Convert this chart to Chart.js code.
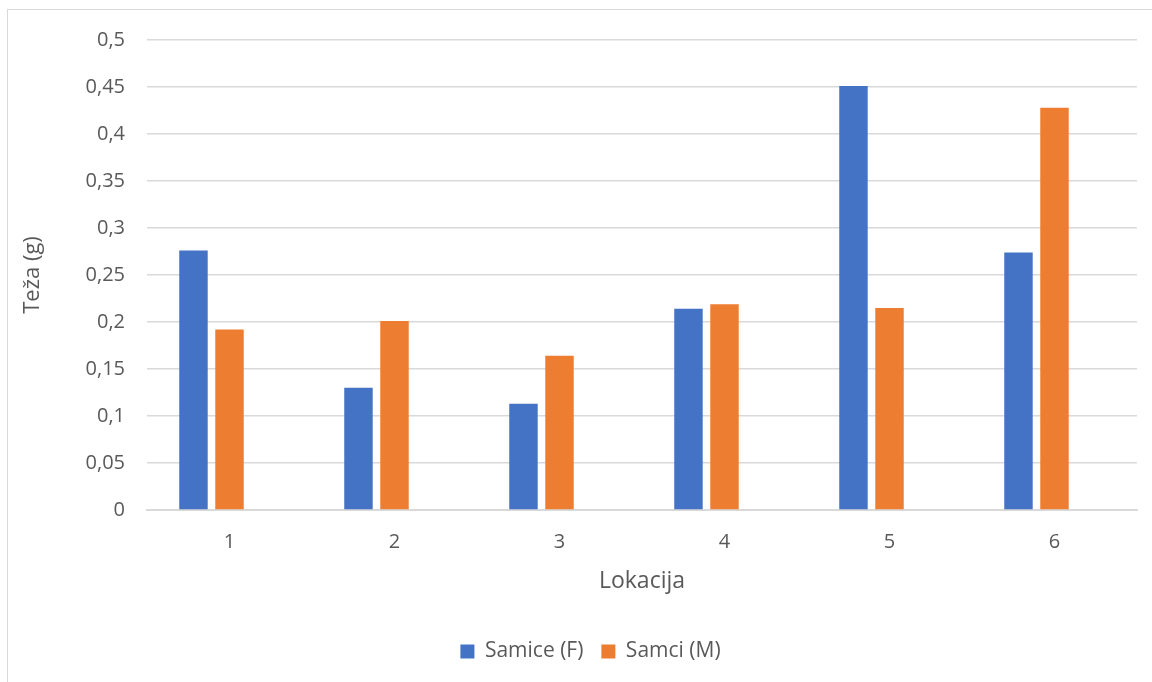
<!DOCTYPE html>
<html>
<head>
<meta charset="utf-8">
<script src="https://cdn.jsdelivr.net/npm/chart.js@4/dist/chart.umd.min.js"></script>
<style>
  html, body { margin: 0; padding: 0; background: #fff; }
  body { width: 1152px; height: 682px; position: relative; overflow: hidden; }
  #frame { position: absolute; left: 7px; top: 9px; width: 1200px; height: 720px; border: 1.5px solid #d9d9d9; box-sizing: border-box; }
  #wrap { position: absolute; left: 0; top: 0; width: 1152px; height: 682px; }
</style>
</head>
<body>
<div id="frame"></div>
<div id="wrap"><canvas id="c" width="1152" height="682"></canvas></div>
<script>
const categories = ['1', '2', '3', '4', '5', '6'];
const samice = [0.276, 0.130, 0.113, 0.214, 0.451, 0.274];
const samci = [0.192, 0.201, 0.164, 0.219, 0.215, 0.428];
const emptySeries = [null, null, null, null, null, null];
const seriesNames = ['Samice (F)', 'Samci (M)'];
const yTitle = 'Teža (g)';
const xTitle = 'Lokacija';

const FONT = "'Open Sans', 'Noto Sans', sans-serif";
const GRAY = '#595959';

const legendShift = {
  id: 'legendShift',
  afterLayout(chart) {
    if (chart.legend) { chart.legend.left += 22; chart.legend.right += 22; }
  }
};

new Chart(document.getElementById('c'), {
  type: 'bar',
  data: {
    labels: categories,
    datasets: [
      { label: seriesNames[0], data: samice, backgroundColor: '#4472c4', categoryPercentage: 0.655, barPercentage: 0.79 },
      { label: seriesNames[1], data: samci, backgroundColor: '#ed7d31', categoryPercentage: 0.655, barPercentage: 0.79 },
      { label: '', data: emptySeries, backgroundColor: 'rgba(0,0,0,0)', categoryPercentage: 0.655, barPercentage: 0.79 }
    ]
  },
  plugins: [legendShift],
  options: {
    responsive: false,
    animation: false,
    layout: { padding: { left: 0, right: 15, top: 40, bottom: 10 } },
    plugins: {
      tooltip: { enabled: false },
      legend: {
        position: 'bottom',
        labels: {
          filter: (item) => item.text !== '',
          boxWidth: 14, boxHeight: 14,
          color: GRAY,
          font: { family: FONT, size: 21 },
          padding: 18
        }
      }
    },
    scales: {
      x: {
        grid: { display: false, drawTicks: false },
        border: { display: true, color: '#d9d9d9', width: 2 },
        ticks: { color: GRAY, font: { family: FONT, size: 20 }, padding: 20 },
        title: { display: true, text: xTitle, color: GRAY, font: { family: FONT, size: 23 }, padding: { top: 10, bottom: 28 } },
        afterFit: (s) => { s.height = 113; }
      },
      y: {
        min: 0, max: 0.5,
        grid: { color: '#d9d9d9', lineWidth: 1.5, drawTicks: false },
        border: { display: false },
        ticks: {
          stepSize: 0.05,
          color: GRAY,
          font: { family: FONT, size: 20 },
          padding: 22,
          callback: (v) => String(Math.round(v * 100) / 100).replace('.', ',')
        },
        title: { display: true, text: yTitle, color: GRAY, font: { family: FONT, size: 22 }, padding: { top: 20, bottom: 0 } },
        afterFit: (s) => { s.width = 147; }
      }
    }
  }
});
</script>
</body>
</html>
